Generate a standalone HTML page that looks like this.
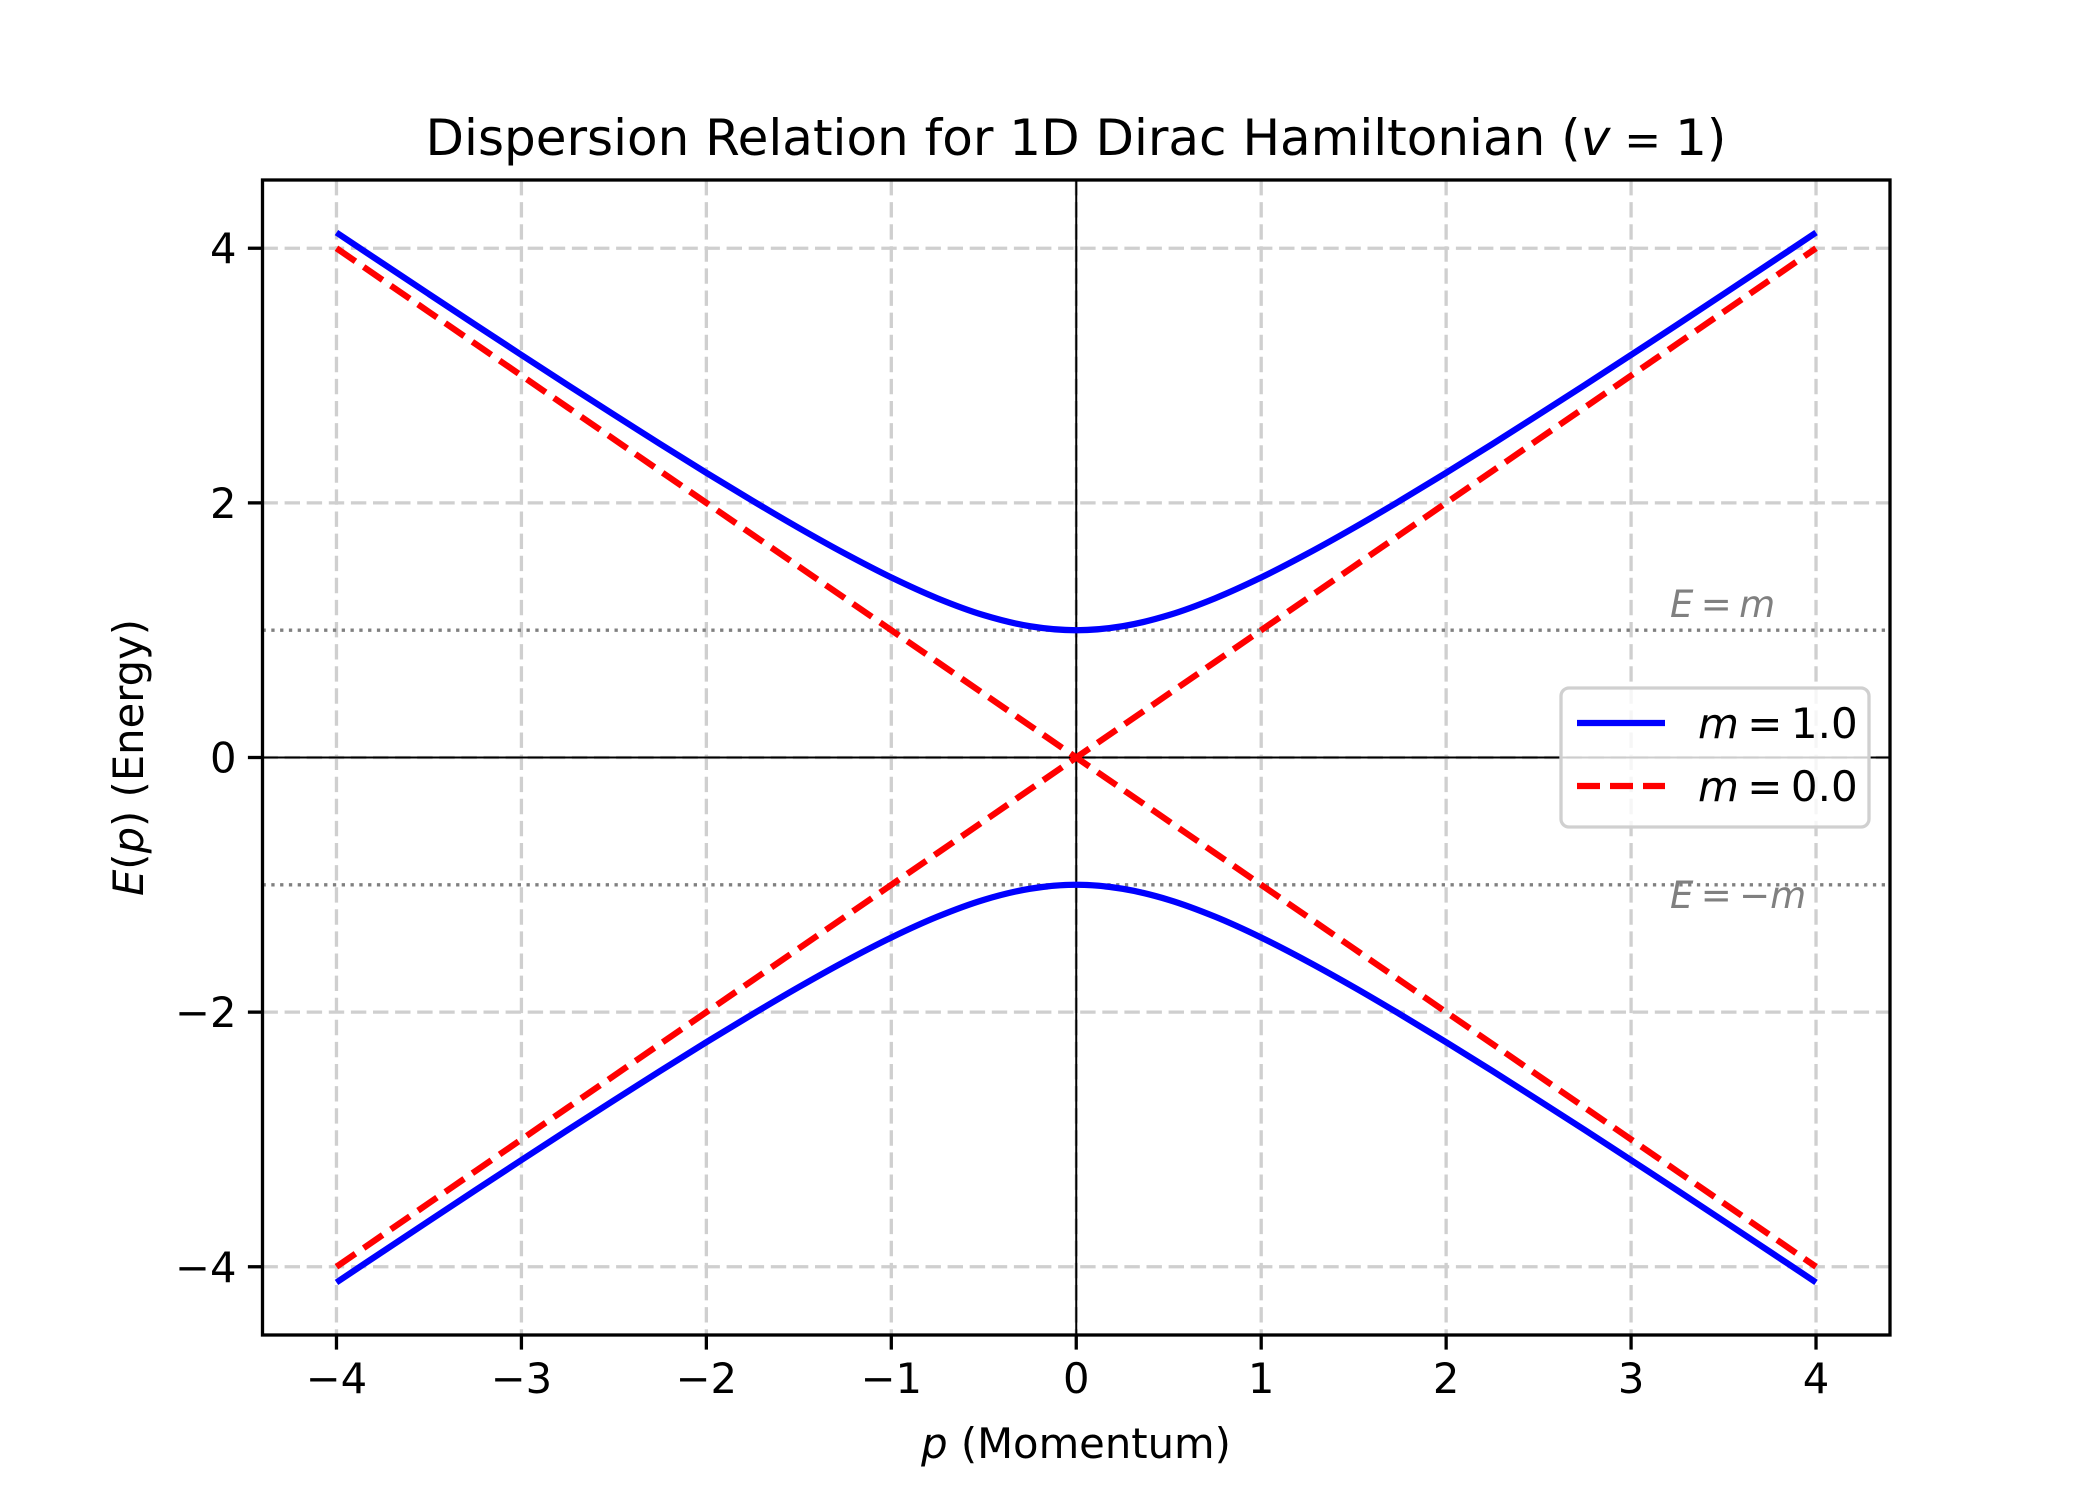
<!DOCTYPE html>
<html><head><meta charset="utf-8"><style>
html,body{margin:0;padding:0;background:#fff;}
svg{display:block;font-family:"DejaVu Sans","Liberation Sans",sans-serif;}
</style></head><body>
<svg id="chart" width="2100" height="1500" viewBox="0 0 2100 1500" xmlns="http://www.w3.org/2000/svg">
<rect width="2100" height="1500" fill="#fff"/>
<text x="1076" y="155" font-size="50" text-anchor="middle">Dispersion Relation for 1D Dirac Hamiltonian (<tspan font-style="italic">v</tspan><tspan font-size="44"> = </tspan>1)</text>
<g id="grid"></g><g id="refs"></g><g id="series"></g><g id="axes"></g><g id="legend"></g>
<text x="1076" y="1458" font-size="41.7" text-anchor="middle"><tspan font-style="italic">p</tspan> (Momentum)</text>
<text x="0" y="0" font-size="41.7" text-anchor="middle" transform="translate(143,757.5) rotate(-90)"><tspan font-style="italic">E</tspan>(<tspan font-style="italic">p</tspan>) (Energy)</text>
</svg>
<script>
const pValues=[-4,-3.75,-3.5,-3.25,-3,-2.75,-2.5,-2.25,-2,-1.75,-1.5,-1.25,-1,-0.75,-0.5,-0.25,0,0.25,0.5,0.75,1,1.25,1.5,1.75,2,2.25,2.5,2.75,3,3.25,3.5,3.75,4];
const energyMassive=[4.123,3.881,3.640,3.400,3.162,2.926,2.693,2.462,2.236,2.016,1.803,1.601,1.414,1.250,1.118,1.031,1.000,1.031,1.118,1.250,1.414,1.601,1.803,2.016,2.236,2.462,2.693,2.926,3.162,3.400,3.640,3.881,4.123];
const energyMassless=[4,3.75,3.5,3.25,3,2.75,2.5,2.25,2,1.75,1.5,1.25,1,0.75,0.5,0.25,0,0.25,0.5,0.75,1,1.25,1.5,1.75,2,2.25,2.5,2.75,3,3.25,3.5,3.75,4];
const massLevels=[1,-1];
const xTicks=[-4,-3,-2,-1,0,1,2,3,4];
const yTicks=[-4,-2,0,2,4];
const tickLabels=v=>v<0?'\u2212'+(-v):String(v);

const L=262.5,R=1890,T=180,B=1335,xmin=-4.4,xmax=4.4,ymin=-4.536,ymax=4.536;
const sx=v=>L+(v-xmin)/(xmax-xmin)*(R-L);
const sy=v=>B-(v-ymin)/(ymax-ymin)*(B-T);
const NS='http://www.w3.org/2000/svg';
function mk(parent,tag,attrs){const e=document.createElementNS(NS,tag);for(const k in attrs)e.setAttribute(k,attrs[k]);document.getElementById(parent).appendChild(e);return e;}

xTicks.forEach(v=>{
 const g=mk('grid','line',{x1:sx(v),x2:sx(v),y1:T,y2:B,stroke:'#cfcfcf','stroke-width':3.3,'stroke-dasharray':'15.4 6.7'});
 
 
});
yTicks.forEach(v=>{
 const g=mk('grid','line',{x1:L,x2:R,y1:sy(v),y2:sy(v),stroke:'#cfcfcf','stroke-width':3.3,'stroke-dasharray':'15.4 6.7'});
 
 
});
let z=mk('refs','line',{x1:L,x2:R,y1:sy(0),y2:sy(0),stroke:'#000','stroke-width':2});


z=mk('refs','line',{x1:sx(0),x2:sx(0),y1:T,y2:B,stroke:'#000','stroke-width':2});


massLevels.forEach(m=>{
 const d=mk('refs','line',{x1:L,x2:R,y1:sy(m),y2:sy(m),stroke:'#808080','stroke-width':3.3,'stroke-dasharray':'3.3 5.5'});
 
 
});
let t=mk('refs','text',{x:1670,y:617,'font-size':37,fill:'#808080','font-style':'italic'});t.textContent='E\u2009=\u2009m';


t=mk('refs','text',{x:1670,y:908,'font-size':37,fill:'#808080','font-style':'italic'});t.textContent='E\u2009=\u2009\u2212m';



function curve(vals,sign,color,dash,name,smooth){
 const pts=pValues.map((p,i)=>[sx(p),sy(sign*vals[i])]);
 let d='M'+pts[0][0].toFixed(2)+','+pts[0][1].toFixed(2);
 for(let i=0;i<pts.length-1;i++){
  const p1=pts[i],p2=pts[i+1];
  if(!smooth){d+='L'+p2[0].toFixed(2)+','+p2[1].toFixed(2);continue;}
  const p0=pts[Math.max(0,i-1)],p3=pts[Math.min(pts.length-1,i+2)];
  const c1=[p1[0]+(p2[0]-p0[0])/6,p1[1]+(p2[1]-p0[1])/6];
  const c2=[p2[0]-(p3[0]-p1[0])/6,p2[1]-(p3[1]-p1[1])/6];
  d+='C'+c1[0].toFixed(2)+','+c1[1].toFixed(2)+' '+c2[0].toFixed(2)+','+c2[1].toFixed(2)+' '+p2[0].toFixed(2)+','+p2[1].toFixed(2);
 }
 const a={d:d,fill:'none',stroke:color,'stroke-width':6.25,'stroke-linejoin':'round'};
 if(dash)a['stroke-dasharray']=dash;
 const e=mk('series','path',a);
 
 
}
curve(energyMassive,1,'#0000ff',null,'massive-upper-band',true);
curve(energyMassive,-1,'#0000ff',null,'massive-lower-band',true);
curve(energyMassless,1,'#ff0000','23 10','massless-upper-band',false);
curve(energyMassless,-1,'#ff0000','23 10','massless-lower-band',false);

const sp=mk('axes','rect',{x:L,y:T,width:R-L,height:B-T,fill:'none',stroke:'#000','stroke-width':3.3});


xTicks.forEach(v=>{
 const tk=mk('axes','line',{x1:sx(v),x2:sx(v),y1:B,y2:B+14.6,stroke:'#000','stroke-width':3.3});
 
 
 const lb=mk('axes','text',{x:sx(v),y:B+58,'font-size':41.7,'text-anchor':'middle'});lb.textContent=tickLabels(v);
 
 
});
yTicks.forEach(v=>{
 const tk=mk('axes','line',{x1:L-14.6,x2:L,y1:sy(v),y2:sy(v),stroke:'#000','stroke-width':3.3});
 
 
 const lb=mk('axes','text',{x:L-26,y:sy(v)+15,'font-size':41.7,'text-anchor':'end'});lb.textContent=tickLabels(v);
 
 
});

const lg=mk('legend','rect',{x:1561,y:688,width:308,height:139,rx:8,fill:'#fff','fill-opacity':0.8,stroke:'#d0d0d0','stroke-width':3.3});


[['#0000ff',null,723,'1.0','legend-entry-m1'],['#ff0000','23 10',786,'0.0','legend-entry-m0']].forEach(r=>{
 const a={x1:1577,x2:1665,y1:r[2],y2:r[2],stroke:r[0],'stroke-width':6.25};
 if(r[1])a['stroke-dasharray']=r[1];
 const ln=mk('legend','line',a);
 
 
 const tx=mk('legend','text',{x:1698,y:r[2]+15,'font-size':42});
 tx.innerHTML='<tspan font-style="italic">m</tspan>\u2009=\u2009'+r[3];
 
 
});
</script>
</body></html>
